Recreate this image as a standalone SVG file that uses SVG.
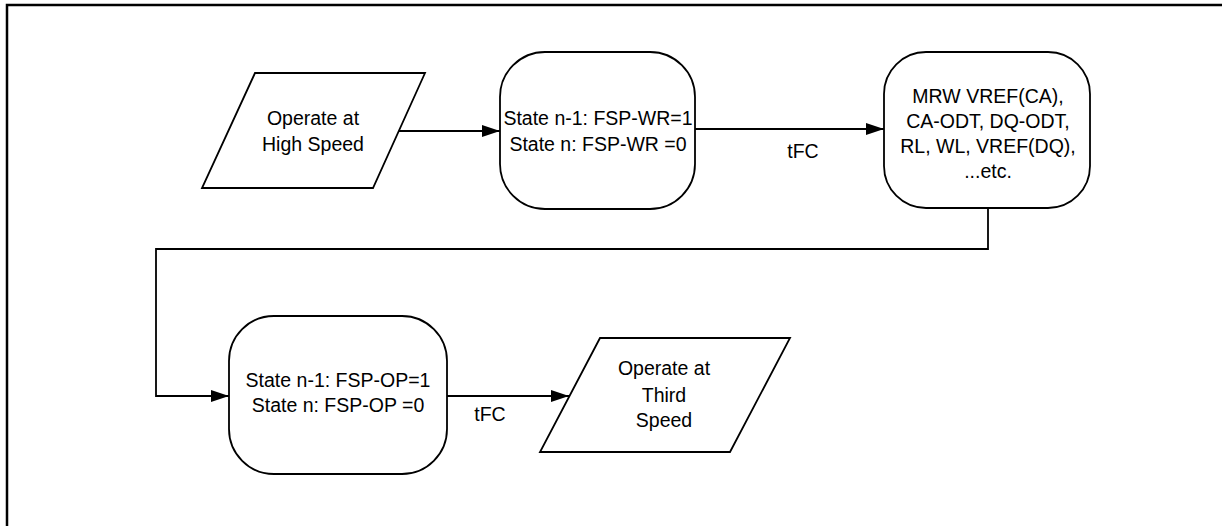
<svg xmlns="http://www.w3.org/2000/svg" width="1222" height="526" viewBox="0 0 1222 526">
<defs>
<marker id="arr" markerWidth="18" markerHeight="12" refX="18" refY="6" orient="auto" markerUnits="userSpaceOnUse">
<path d="M0,0 L18,6 L0,12 Z" fill="#000"/>
</marker>
<style>
.shape{fill:#fff;stroke:#000;stroke-width:1.8}
.conn{fill:none;stroke:#000;stroke-width:1.8}
text{font-family:"Liberation Sans",Arial,sans-serif;font-size:19.5px;fill:#000;text-anchor:middle}
</style>
</defs>
<rect x="7" y="5" width="1240" height="540" fill="none" stroke="#000" stroke-width="2.5"/>
<g id="connectors">
<line class="conn" x1="398" y1="131" x2="500" y2="131" marker-end="url(#arr)"/>
<line class="conn" x1="695" y1="129" x2="884" y2="129" marker-end="url(#arr)"/>
<text x="803" y="158">tFC</text>
<polyline class="conn" points="988,208 988,249 156,249 156,396 229,396" marker-end="url(#arr)"/>
<line class="conn" x1="447" y1="396" x2="569" y2="396" marker-end="url(#arr)"/>
<text x="490" y="421">tFC</text>
</g>
<g id="n1">
<polygon class="shape" points="255,73 425,73 373,188 202,188"/>
<text x="313" y="125">Operate at</text>
<text x="313" y="151">High Speed</text>
</g>
<g id="n2">
<rect class="shape" x="500" y="52" width="195" height="157" rx="45" ry="45"/>
<text x="598" y="125">State n-1: FSP-WR=1</text>
<text x="598" y="151">State n: FSP-WR =0</text>
</g>
<g id="n3">
<rect class="shape" x="884" y="52" width="206" height="156" rx="42" ry="42"/>
<text x="988" y="103">MRW VREF(CA),</text>
<text x="988" y="128">CA-ODT, DQ-ODT,</text>
<text x="988" y="153">RL, WL, VREF(DQ),</text>
<text x="988" y="178">...etc.</text>
</g>
<g id="n4">
<rect class="shape" x="229" y="316" width="218" height="158" rx="45" ry="45"/>
<text x="338" y="387">State n-1: FSP-OP=1</text>
<text x="338" y="412">State n: FSP-OP =0</text>
</g>
<g id="n5">
<polygon class="shape" points="600,338 790,338 730,452 540,452"/>
<text x="664" y="375">Operate at</text>
<text x="664" y="402">Third</text>
<text x="664" y="427">Speed</text>
</g>
</svg>
